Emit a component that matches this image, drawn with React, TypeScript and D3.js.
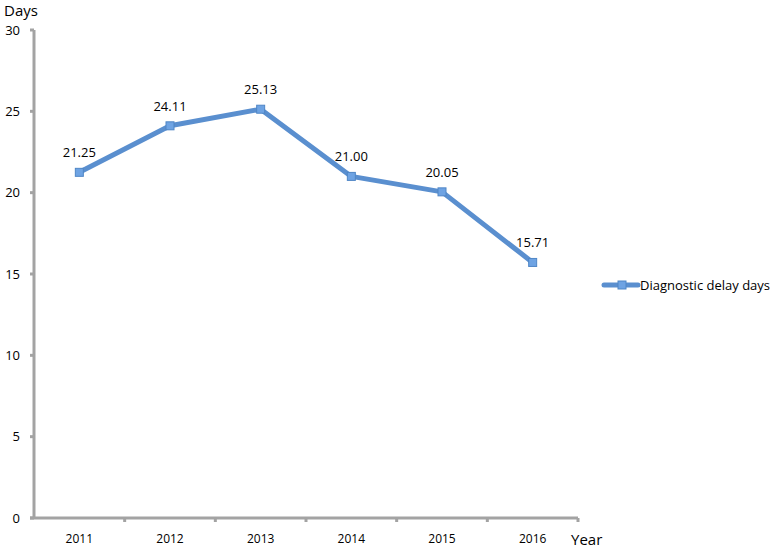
import React from "react";
import * as d3 from "d3";

const years = ["2011", "2012", "2013", "2014", "2015", "2016"];
const delayDays = [21.25, 24.11, 25.13, 21.0, 20.05, 15.71];
const yTicks = [0, 5, 10, 15, 20, 25, 30];
const seriesName = "Diagnostic delay days";

const W = 777;
const H = 551;
const margin = { top: 30, right: 199, bottom: 33, left: 34 };
const lineColor = "#5a8fcf";
const axisColor = "#a3a3a3";
const font = "'Open Sans', 'Liberation Sans', sans-serif";

const App = () => {
  const x = d3
    .scaleBand()
    .domain(years)
    .range([margin.left, W - margin.right]);

  const y = d3
    .scaleLinear()
    .domain([0, 30])
    .range([H - margin.bottom, margin.top]);

  const cx = (d) => x(d) + x.bandwidth() / 2;
  const pts = years.map((yr, i) => [cx(yr), y(delayDays[i])]);
  const line = d3.line()(pts);

  const x0 = margin.left;
  const y0 = y(0);

  return (
    <svg
      width={W}
      height={H}
      style={{ position: "absolute", left: 0, top: 0, background: "#fff" }}
      fontFamily={font}
    >
      <text x={4} y={16} fontSize={15} fill="#000">
        Days
      </text>

      {/* y axis */}
      <line x1={x0} x2={x0} y1={y(30)} y2={y0} stroke={axisColor} strokeWidth={3} />
      {yTicks.map((t) => (
        <g key={t}>
          <line x1={x0 - 4} x2={x0} y1={y(t)} y2={y(t)} stroke={axisColor} strokeWidth={3} />
          <text
            x={20}
            y={y(t)}
            dy="0.35em"
            textAnchor="end"
            fontSize={13}
            fill="#000"
          >
            {t}
          </text>
        </g>
      ))}

      {/* x axis */}
      <line x1={x0 - 4} x2={W - margin.right} y1={y0} y2={y0} stroke={axisColor} strokeWidth={3} />
      {years.map((yr) => (
        <g key={yr}>
          <line
            x1={x(yr) + x.bandwidth()}
            x2={x(yr) + x.bandwidth()}
            y1={y0}
            y2={y0 + 4}
            stroke={axisColor}
            strokeWidth={3}
          />
          <text x={cx(yr)} y={y0 + 25} textAnchor="middle" fontSize={12} fill="#000">
            {yr}
          </text>
        </g>
      ))}
      <text x={571} y={545} fontSize={15} fill="#000">
        Year
      </text>

      {/* series */}
      <path d={line} fill="none" stroke={lineColor} strokeWidth={5} strokeLinejoin="round" />
      {pts.map(([px, py], i) => (
        <g key={i}>
          <rect
            x={px - 4}
            y={py - 4}
            width={8}
            height={8}
            fill="#6ea3e3"
            stroke="#4f86c6"
            strokeWidth={1}
          />
          <text x={px} y={py - 15} textAnchor="middle" fontSize={13} fill="#000">
            {delayDays[i].toFixed(2)}
          </text>
        </g>
      ))}

      {/* legend */}
      <line x1={604} x2={638} y1={285} y2={285} stroke={lineColor} strokeWidth={5} strokeLinecap="round" />
      <rect x={618} y={281} width={8} height={8} fill="#6ea3e3" stroke="#4f86c6" strokeWidth={1} />
      <text x={640} y={285} dy="0.35em" fontSize={13} fill="#000">
        {seriesName}
      </text>
    </svg>
  );
};

export default App;
